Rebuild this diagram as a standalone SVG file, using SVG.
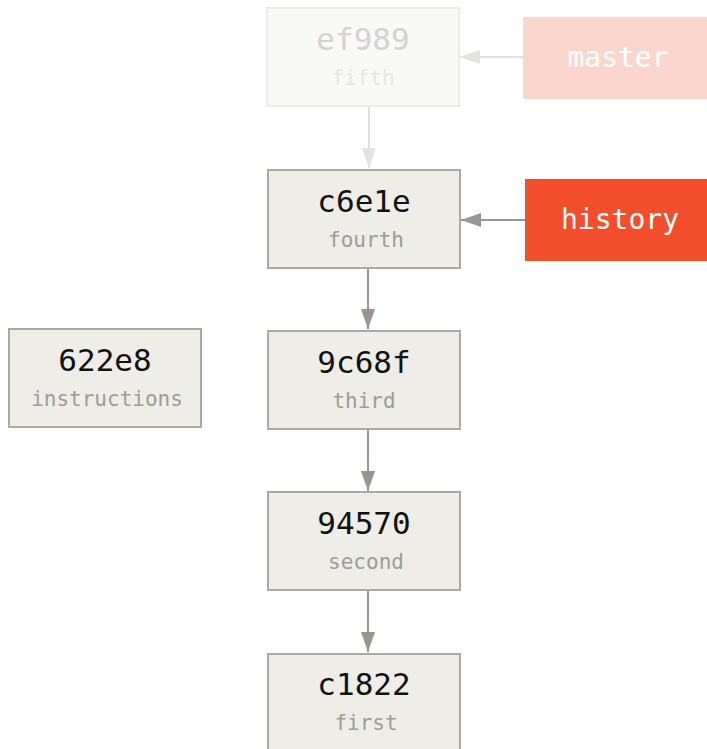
<svg xmlns="http://www.w3.org/2000/svg" width="707" height="749" viewBox="0 0 707 749">
<style>
.box{fill:#eeede7;stroke:#aaa9a4;stroke-width:2}
.fbox{fill:#f9f9f7;stroke:#ebebe9;stroke-width:2}
.hash{font-family:"DejaVu Sans Mono",monospace;font-size:31px;fill:#111;text-anchor:middle}
.sub{font-family:"DejaVu Sans Mono",monospace;font-size:21px;fill:#9c9c9a;text-anchor:middle}
.fhash{font-family:"DejaVu Sans Mono",monospace;font-size:31px;fill:#d3d3d1;text-anchor:middle}
.fsub{font-family:"DejaVu Sans Mono",monospace;font-size:21px;fill:#e6e6e4;text-anchor:middle}
.lbl{font-family:"DejaVu Sans Mono",monospace;font-size:28px;fill:#fff;text-anchor:middle}
.conn{stroke:#9a9590;stroke-width:2;fill:none}
.fconn{stroke:#e2e2e0;stroke-width:2;fill:none}
</style>
<defs>
<marker id="ah" viewBox="0 0 20 14" refX="20" refY="7" markerWidth="20" markerHeight="14" markerUnits="userSpaceOnUse" orient="auto"><path d="M0,0 L20,7 L0,14 Z" fill="#9a9590"/></marker>
<marker id="fah" viewBox="0 0 20 14" refX="20" refY="7" markerWidth="20" markerHeight="14" markerUnits="userSpaceOnUse" orient="auto"><path d="M0,0 L20,7 L0,14 Z" fill="#e2e2e0"/></marker>
</defs>
<g id="connectors">
<line class="fconn" x1="523" y1="57" x2="460" y2="57" marker-end="url(#fah)"/>
<line class="fconn" x1="369" y1="107" x2="369" y2="168" marker-end="url(#fah)"/>
<line class="conn" x1="525" y1="220" x2="461" y2="220" marker-end="url(#ah)"/>
<line class="conn" x1="368" y1="268" x2="368" y2="329" marker-end="url(#ah)"/>
<line class="conn" x1="368" y1="429" x2="368" y2="491" marker-end="url(#ah)"/>
<line class="conn" x1="368" y1="590" x2="368" y2="652" marker-end="url(#ah)"/>
</g>
<g id="ef989">
<rect class="fbox" x="267" y="8" width="192" height="98"/>
<text class="fhash" x="363" y="50">ef989</text>
<text class="fsub" x="363" y="85">fifth</text>
</g>
<g id="master">
<rect x="523" y="17" width="190" height="82" fill="#fbd6cc"/>
<text class="lbl" x="618" y="67">master</text>
</g>
<g id="c6e1e">
<rect class="box" x="268" y="170" width="192" height="98"/>
<text class="hash" x="364" y="212">c6e1e</text>
<text class="sub" x="366" y="247">fourth</text>
</g>
<g id="history">
<rect x="525" y="179" width="190" height="82" fill="#f34e2b"/>
<text class="lbl" x="620" y="229">history</text>
</g>
<g id="622e8">
<rect class="box" x="9" y="329" width="192" height="98"/>
<text class="hash" x="105" y="371">622e8</text>
<text class="sub" x="107" y="406">instructions</text>
</g>
<g id="9c68f">
<rect class="box" x="268" y="331" width="192" height="98"/>
<text class="hash" x="364" y="373">9c68f</text>
<text class="sub" x="364" y="408">third</text>
</g>
<g id="94570">
<rect class="box" x="268" y="492" width="192" height="98"/>
<text class="hash" x="364" y="534">94570</text>
<text class="sub" x="366" y="569">second</text>
</g>
<g id="c1822">
<rect class="box" x="268" y="654" width="192" height="98"/>
<text class="hash" x="364" y="695">c1822</text>
<text class="sub" x="366" y="730">first</text>
</g>
</svg>
